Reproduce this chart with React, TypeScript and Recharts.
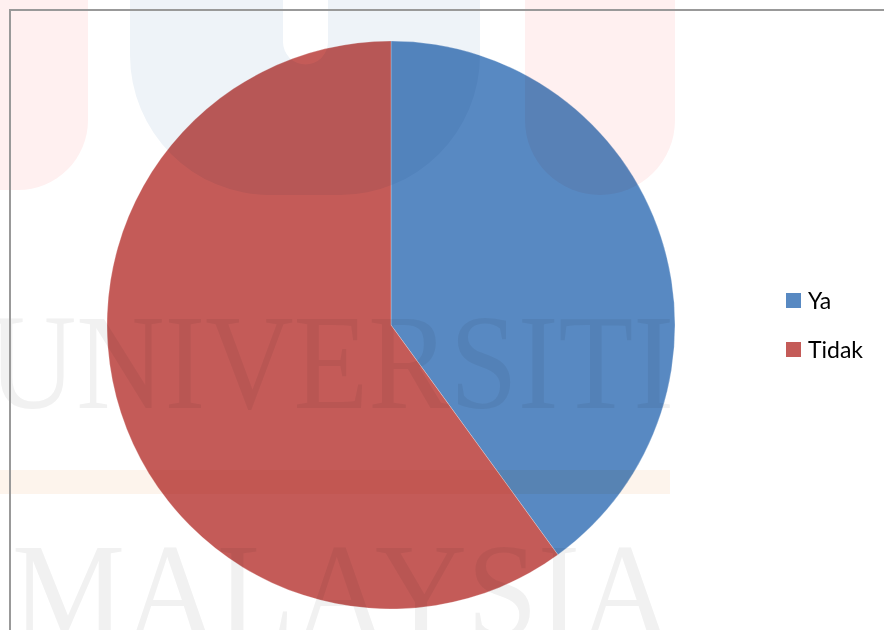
import { Cell, Legend, Pie, PieChart } from "recharts";

const labels = ["Ya", "Tidak"];
const values = [40, 60];
const colors = ["#5889C2", "#C45B58"];

const rows = labels.map((name, i) => ({ name, value: values[i] }));

function LegendBox() {
  return (
    <div style={{ fontFamily: "Lato, sans-serif", fontSize: 23, color: "#000" }}>
      {labels.map((name, i) => (
        <div key={name} style={{ display: "flex", alignItems: "center", height: 49 }}>
          <span
            style={{ display: "inline-block", width: 15, height: 15, background: colors[i], marginRight: 7 }}
          />
          {name}
        </div>
      ))}
    </div>
  );
}

// faint thesis watermark (logo, band, lettering) laid over the chart
function Watermark() {
  return (
    <svg
      width={884}
      height={630}
      style={{ position: "absolute", left: 0, top: 0, mixBlendMode: "multiply", pointerEvents: "none" }}
    >
      <path d="M-60,-10 L88,-10 L88,120 A70,70 0 0 1 18,190 L-60,190 Z" fill="#fff0f0" />
      <path
        d="M130,-10 L130,55 A140,140 0 0 0 270,195 L340,195 A140,140 0 0 0 480,55 L480,-10 L328,-10 L328,42 A22.5,22.5 0 0 1 283,42 L283,-10 Z"
        fill="#eef3f8"
      />
      <path d="M525,-10 L525,120 A75,75 0 0 0 675,120 L675,-10 Z" fill="#fff0f0" />
      <rect x={-10} y={470} width={680} height={24} fill="#fdf4ec" />
      <text
        x={-12}
        y={408}
        fontFamily="'Liberation Serif', serif"
        fontSize={136}
        fill="#f1f1f1"
        textLength={686}
        lengthAdjust="spacingAndGlyphs"
      >
        UNIVERSITI
      </text>
      <text
        x={12}
        y={637}
        fontFamily="'Liberation Serif', serif"
        fontSize={136}
        fill="#f1f1f1"
        textLength={660}
        lengthAdjust="spacingAndGlyphs"
      >
        MALAYSIA
      </text>
    </svg>
  );
}

export default function App() {
  return (
    <div style={{ position: "relative", width: 884, height: 630, overflow: "hidden", background: "#fff" }}>
      <style>{`body { margin: 0; }`}</style>
      <PieChart width={884} height={630} margin={{ top: 0, right: 0, bottom: 0, left: 0 }}>
        <Pie
          data={rows}
          dataKey="value"
          nameKey="name"
          cx={391}
          cy={325}
          outerRadius={284}
          startAngle={90}
          endAngle={-270}
          stroke="rgba(255,255,255,0.25)"
          strokeWidth={1}
          isAnimationActive={false}
        >
          {rows.map((r, i) => (
            <Cell key={r.name} fill={colors[i]} />
          ))}
        </Pie>
        <Legend
          layout="vertical"
          content={<LegendBox />}
          wrapperStyle={{ left: 786, top: 275.5, width: 98 }}
        />
      </PieChart>
      <Watermark />
      <div
        style={{
          position: "absolute",
          left: 9,
          top: 9,
          width: 900,
          height: 700,
          border: "2px solid #999",
          pointerEvents: "none",
        }}
      />
    </div>
  );
}
